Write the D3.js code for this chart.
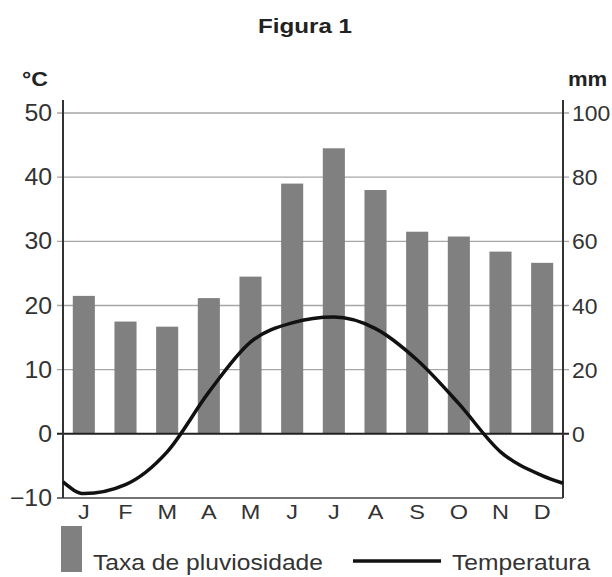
<!DOCTYPE html>
<html><head><meta charset="utf-8">
<script src="https://cdn.jsdelivr.net/npm/d3@7"></script>
<style>html,body{margin:0;padding:0;background:#fff;}svg{display:block;font-family:"Liberation Sans",Arial,sans-serif;}</style>
</head><body>
<script>
const months = ["J","F","M","A","M","J","J","A","S","O","N","D"];
const rainfall = [43, 35, 33.4, 42.3, 49, 78, 89, 76, 63, 61.5, 56.8, 53.3];
const temperature = [-9.3, -7.9, -2.8, 6.5, 14.3, 17.3, 18.2, 16.4, 11.5, 4.7, -2.8, -6.5];
const tempStart = -7.5, tempEnd = -7.7;
const tempTicks = [-10, 0, 10, 20, 30, 40, 50];
const rainTicks = [0, 20, 40, 60, 80, 100];
const title = "Figura 1";
const legendLabels = ["Taxa de pluviosidade", "Temperatura"];

const W = 612, H = 577;
const L = 63, R = 563, T = 113, B = 498;
const svg = d3.select("body").append("svg").attr("width", W).attr("height", H);

const xBand = d3.scaleBand().domain(d3.range(12)).range([L, R]).paddingInner(0.47).paddingOuter(0.235);
const xLin = d3.scaleLinear().domain([-0.5, 11.5]).range([L, R]);
const yT = d3.scaleLinear().domain([-10, 50]).range([B, T]);
const yP = d3.scaleLinear().domain([-20, 100]).range([B, T]);

const txt = "#333";
const tr = (x, y, s) => `translate(${x},${y}) scale(${s},1)`;

svg.append("text").attr("transform", tr(305, 33, 1.15)).attr("text-anchor", "middle")
  .attr("font-size", 21).attr("font-weight", "bold").attr("fill", "#222").text(title);

// gridlines
svg.append("g").selectAll("line").data(tempTicks.filter(d => d > 0)).join("line")
  .attr("x1", L - 6).attr("x2", R + 6).attr("y1", d => yT(d)).attr("y2", d => yT(d))
  .attr("stroke", "#a6a6a6").attr("stroke-width", 1.3);

// bars
svg.append("g").selectAll("rect").data(rainfall).join("rect")
  .attr("x", (d, i) => xBand(i)).attr("width", xBand.bandwidth())
  .attr("y", d => yP(d)).attr("height", d => yP(0) - yP(d))
  .attr("fill", "#808080");

// zero line and bottom line
svg.append("line").attr("x1", L - 6).attr("x2", R + 6).attr("y1", yT(0)).attr("y2", yT(0))
  .attr("stroke", "#222").attr("stroke-width", 2);
svg.append("line").attr("x1", L - 6).attr("x2", R).attr("y1", yT(-10)).attr("y2", yT(-10))
  .attr("stroke", "#444").attr("stroke-width", 1.5);

// axes lines
svg.append("line").attr("x1", L).attr("x2", L).attr("y1", T - 13).attr("y2", B)
  .attr("stroke", "#333").attr("stroke-width", 2);
svg.append("line").attr("x1", R).attr("x2", R).attr("y1", T - 13).attr("y2", B)
  .attr("stroke", "#333").attr("stroke-width", 2);

// temperature line
const pts = [[-0.5, tempStart]].concat(temperature.map((t, i) => [i, t])).concat([[11.5, tempEnd]]);
svg.append("path").datum(pts)
  .attr("d", d3.line().x(d => xLin(d[0])).y(d => yT(d[1])).curve(d3.curveMonotoneX))
  .attr("fill", "none").attr("stroke", "#111").attr("stroke-width", 3.5);

// left tick labels
svg.append("g").selectAll("text").data(tempTicks).join("text")
  .attr("transform", d => tr(52, yT(d) + 8, 1.08)).attr("text-anchor", "end")
  .attr("font-size", 23).attr("fill", txt).text(d => d < 0 ? "\u2212" + Math.abs(d) : d);
// right tick labels
svg.append("g").selectAll("text").data(rainTicks).join("text")
  .attr("transform", d => tr(572, yP(d) + 8, 1.02)).attr("text-anchor", "start")
  .attr("font-size", 22.5).attr("fill", txt).text(d => d);

// unit labels
svg.append("text").attr("transform", tr(22, 86, 1.1)).attr("font-size", 21).attr("font-weight", "bold").attr("fill", "#222").text("°C");
svg.append("text").attr("transform", tr(568, 86, 1.05)).attr("font-size", 21).attr("font-weight", "bold").attr("fill", "#222").text("mm");

// month labels
svg.append("g").selectAll("text").data(months).join("text")
  .attr("transform", (d, i) => tr(xBand(i) + xBand.bandwidth() / 2, 519, 1.12))
  .attr("text-anchor", "middle").attr("font-size", 21).attr("fill", txt).text(d => d);

// legend
svg.append("rect").attr("x", 61).attr("y", 526).attr("width", 21).attr("height", 46).attr("fill", "#808080");
svg.append("text").attr("transform", tr(93, 570, 1.12)).attr("font-size", 22).attr("fill", txt).text(legendLabels[0]);
svg.append("line").attr("x1", 353).attr("x2", 441).attr("y1", 561).attr("y2", 561).attr("stroke", "#111").attr("stroke-width", 3.5);
svg.append("text").attr("transform", tr(452, 570, 1.12)).attr("font-size", 22).attr("fill", txt).text(legendLabels[1]);
</script>
</body></html>
